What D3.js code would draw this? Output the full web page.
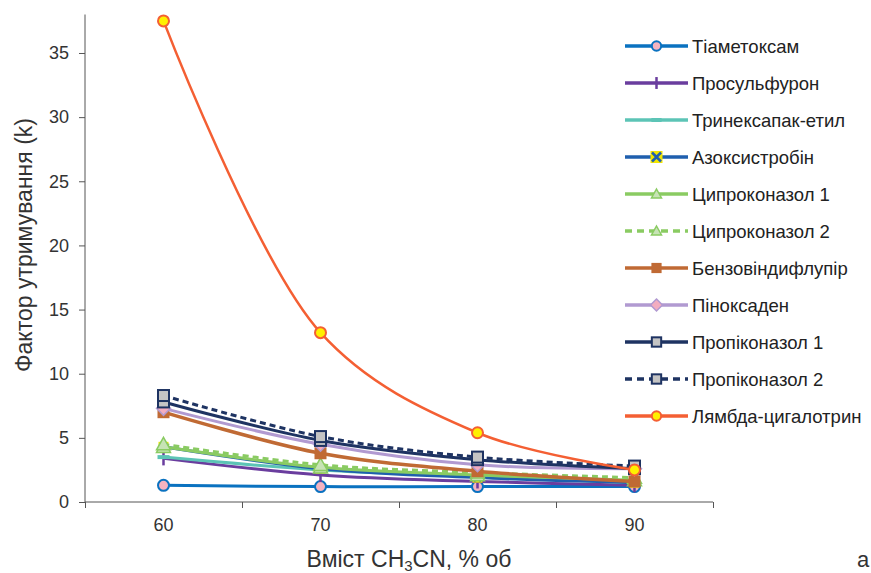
<!DOCTYPE html>
<html>
<head>
<meta charset="utf-8">
<script src="https://cdn.jsdelivr.net/npm/d3@7"></script>
<style>
  body { margin: 0; background: #fff; }
  svg { font-family: "Liberation Sans", Arial, sans-serif; }
</style>
</head>
<body>
<svg id="chart" width="871" height="573"></svg>
<script>
// categories (% CH3CN)
var categories = [60, 70, 80, 90];
var yTicks = [0, 5, 10, 15, 20, 25, 30, 35];

var seriesNames = ['Тіаметоксам', 'Просульфурон', 'Тринексапак-етил', 'Азоксистробін',
  'Ципроконазол 1', 'Ципроконазол 2', 'Бензовіндифлупір', 'Піноксаден',
  'Пропіконазол 1', 'Пропіконазол 2', 'Лямбда-цигалотрин'];

var thiamethoxam   = [1.3, 1.2, 1.2, 1.2];
var prosulfuron    = [3.4, 2.1, 1.6, 1.3];
var trinexapac     = [3.5, 2.5, 2.0, 1.5];
var azoxystrobin   = [4.3, 2.6, 1.9, 1.5];
var cyproconazole1 = [4.3, 2.7, 2.1, 1.7];
var cyproconazole2 = [4.5, 2.9, 2.3, 1.9];
var benzovindiflupyr = [7.0, 3.8, 2.4, 1.6];
var pinoxaden      = [7.3, 4.5, 2.9, 2.6];
var propiconazole1 = [7.8, 4.8, 3.3, 2.6];
var propiconazole2 = [8.3, 5.1, 3.5, 2.8];
var lambdaCyhal    = [37.5, 13.2, 5.4, 2.5];

var seriesValues = [thiamethoxam, prosulfuron, trinexapac, azoxystrobin, cyproconazole1,
  cyproconazole2, benzovindiflupyr, pinoxaden, propiconazole1, propiconazole2, lambdaCyhal];

// look of each series: line colour, dash, marker
var styles = [
  {c: '#0a72c0', dash: null, m: 'circle', fill: '#f4b3c0', w: 3},
  {c: '#6a3d9e', dash: null, m: 'plus', fill: null, w: 3},
  {c: '#5cc4b6', dash: null, m: 'dash', fill: null, w: 3},
  {c: '#1f5fae', dash: null, m: 'xbox', fill: '#f2e600', w: 3},
  {c: '#8acb62', dash: null, m: 'tri', fill: '#c7e3b5', w: 3},
  {c: '#8acb62', dash: '7,5', m: 'tri', fill: '#c7e3b5', w: 3},
  {c: '#c06a34', dash: null, m: 'square', fill: '#c06a34', w: 3.5},
  {c: '#b19ad1', dash: null, m: 'diamond', fill: '#f3adc0', w: 3},
  {c: '#1e3362', dash: null, m: 'gsquare', fill: '#c4c4c4', w: 3},
  {c: '#1e3362', dash: '7,5', m: 'gsquare', fill: '#c4c4c4', w: 3},
  {c: '#f45f33', dash: null, m: 'circle', fill: '#fff000', w: 2.5}
];

var svg = d3.select('#chart');

var x = d3.scaleLinear().domain([55, 95]).range([85, 713]);
var y = d3.scaleLinear().domain([0, 38]).range([502, 14.5]);

var axisColor = '#555';

// y axis
var yAxis = svg.append('g')
  .attr('transform', 'translate(85,0)')
  .call(d3.axisLeft(y).tickValues(yTicks).tickSize(6).tickPadding(10));
yAxis.select('.domain').attr('stroke', axisColor).attr('d', 'M0,' + y(38) + 'V' + y(0));
yAxis.selectAll('.tick line').attr('stroke', axisColor);
yAxis.selectAll('.tick text').attr('fill', '#333').style('font-size', '18px')
  .style('font-family', '"Liberation Sans", Arial, sans-serif');

// x axis: ticks between categories
var xAxis = svg.append('g')
  .attr('transform', 'translate(0,502)')
  .call(d3.axisBottom(x).tickValues([55, 65, 75, 85, 95]).tickSize(6).tickFormat(''));
xAxis.select('.domain').attr('stroke', axisColor).attr('d', 'M' + x(55) + ',0H' + x(95));
xAxis.selectAll('.tick line').attr('stroke', axisColor);

svg.append('g').selectAll('text').data(categories).enter().append('text')
  .attr('x', function(d) { return x(d); })
  .attr('y', 531)
  .attr('text-anchor', 'middle')
  .attr('fill', '#333')
  .style('font-size', '18px')
  .text(function(d) { return d; });

// axis titles
var xt = svg.append('text')
  .attr('x', 409).attr('y', 567)
  .attr('text-anchor', 'middle')
  .attr('fill', '#333')
  .style('font-size', '23px');
xt.append('tspan').text('Вміст CH');
xt.append('tspan').attr('dy', 4).style('font-size', '15px').text('3');
xt.append('tspan').attr('dy', -4).text('CN, % об');

svg.append('text')
  .attr('transform', 'translate(32,245) rotate(-90)')
  .attr('text-anchor', 'middle')
  .attr('fill', '#333')
  .style('font-size', '23px')
  .text('Фактор утримування (k)');

svg.append('text')
  .attr('x', 857).attr('y', 567)
  .attr('fill', '#333')
  .style('font-size', '22px')
  .text('а');

function drawMarker(g, st, cx, cy, legend) {
  var s = legend ? 0.85 : 1;
  if (st.m === 'circle') {
    g.append('circle').attr('cx', cx).attr('cy', cy).attr('r', 5.5 * s)
      .attr('fill', st.fill).attr('stroke', st.c).attr('stroke-width', 2);
  } else if (st.m === 'plus') {
    g.append('line').attr('x1', cx).attr('x2', cx).attr('y1', cy - 7 * s).attr('y2', cy + 7 * s)
      .attr('stroke', st.c).attr('stroke-width', 2.5);
  } else if (st.m === 'dash') {
    g.append('line').attr('x1', cx - 6 * s).attr('x2', cx + 6 * s).attr('y1', cy).attr('y2', cy)
      .attr('stroke', st.c).attr('stroke-width', 4);
  } else if (st.m === 'xbox') {
    var h = (legend ? 6 : 5);
    g.append('rect').attr('x', cx - h).attr('y', cy - h).attr('width', 2 * h).attr('height', 2 * h)
      .attr('fill', st.fill);
    g.append('path').attr('d', 'M' + (cx - h + 1.5) + ',' + (cy - h + 1.5) + 'L' + (cx + h - 1.5) + ',' + (cy + h - 1.5) +
      'M' + (cx + h - 1.5) + ',' + (cy - h + 1.5) + 'L' + (cx - h + 1.5) + ',' + (cy + h - 1.5))
      .attr('stroke', st.c).attr('stroke-width', 2.5);
  } else if (st.m === 'tri') {
    var t = (legend ? 5 : 7);
    g.append('path').attr('d', 'M' + cx + ',' + (cy - t) + 'L' + (cx + t) + ',' + (cy + t * 0.8) + 'L' + (cx - t) + ',' + (cy + t * 0.8) + 'Z')
      .attr('fill', st.fill).attr('stroke', st.c).attr('stroke-width', 1.5);
  } else if (st.m === 'square') {
    var q = 6 * s;
    g.append('rect').attr('x', cx - q).attr('y', cy - q).attr('width', 2 * q).attr('height', 2 * q)
      .attr('fill', st.fill);
  } else if (st.m === 'diamond') {
    var dd = 7 * s;
    g.append('path').attr('d', 'M' + cx + ',' + (cy - dd) + 'L' + (cx + dd) + ',' + cy + 'L' + cx + ',' + (cy + dd) + 'L' + (cx - dd) + ',' + cy + 'Z')
      .attr('fill', st.fill).attr('stroke', st.c).attr('stroke-width', 1.5);
  } else if (st.m === 'gsquare') {
    var gq = 5.5 * s;
    g.append('rect').attr('x', cx - gq).attr('y', cy - gq).attr('width', 2 * gq).attr('height', 2 * gq)
      .attr('fill', st.fill).attr('stroke', st.c).attr('stroke-width', 2);
  }
}

var line = d3.line()
  .x(function(d) { return x(d.x); })
  .y(function(d) { return y(d.y); })
  .curve(d3.curveCatmullRom.alpha(0.5));

var plot = svg.append('g');
seriesValues.forEach(function(vals, i) {
  var st = styles[i];
  var pts = vals.map(function(v, j) { return {x: categories[j], y: v}; });
  var g = plot.append('g').attr('class', 'series');
  g.append('path').datum(pts)
    .attr('d', line)
    .attr('fill', 'none')
    .attr('stroke', st.c)
    .attr('stroke-width', st.w)
    .attr('stroke-dasharray', st.dash ? '6,4' : null);
  pts.forEach(function(p) { drawMarker(g, st, x(p.x), y(p.y), false); });
});

// legend
var legend = svg.append('g');
seriesNames.forEach(function(name, i) {
  var st = styles[i];
  var ly = 46 + i * 37;
  var g = legend.append('g');
  g.append('line').attr('x1', 625).attr('x2', 688).attr('y1', ly).attr('y2', ly)
    .attr('stroke', st.c).attr('stroke-width', 3.5)
    .attr('stroke-dasharray', st.dash);
  drawMarker(g, st, 656.5, ly, true);
  g.append('text').attr('x', 692).attr('y', ly + 6.5)
    .attr('fill', '#222')
    .style('font-size', '18.5px')
    .text(name);
});
</script>
</body>
</html>
